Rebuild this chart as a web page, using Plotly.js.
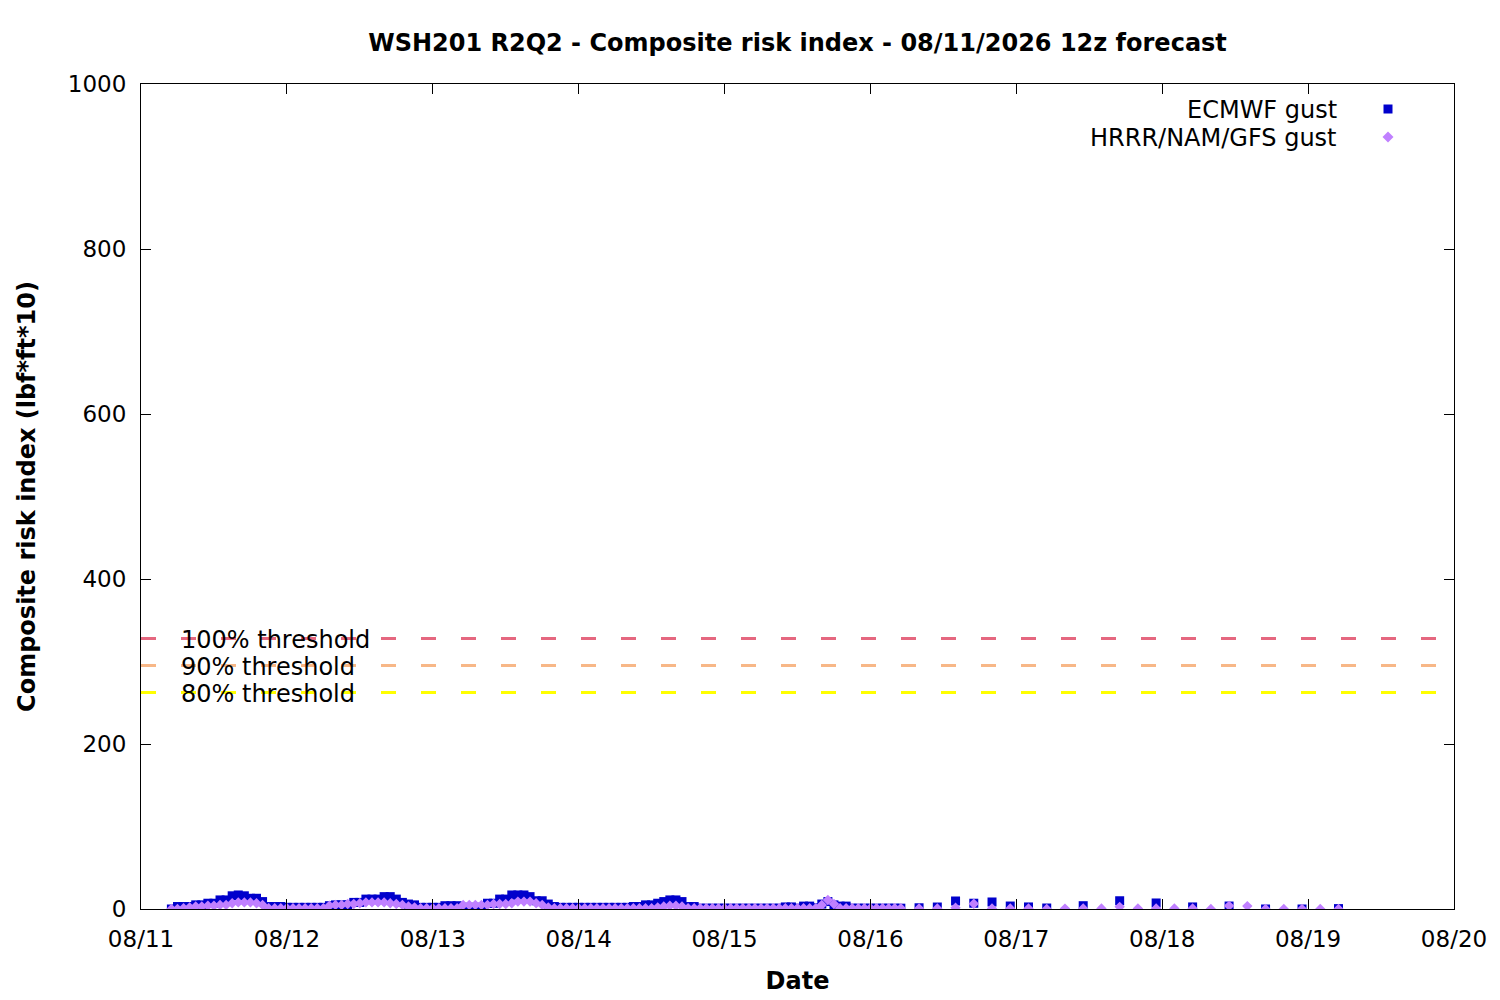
<!DOCTYPE html>
<html>
<head>
<meta charset="utf-8">
<script src="https://cdn.plot.ly/plotly-3.0.1.min.js"></script>
<style>html,body{margin:0;padding:0;background:#fff;}#chart{width:1500px;height:1000px;}</style>
</head>
<body>
<div id="chart"></div>
<script>
// ---- Data ----
// Hourly segment: starts 2026-08-11 05:00, one value per hour
const hourlyStart = '2026-08-11T05:00:00';
const ecmwfHourly = [
  0, 3, 3, 3, 5, 5, 7, 7, 11, 11,
  16, 17, 16, 13, 13, 9, 3, 3, 3, 2,
  2, 2, 2, 2, 2, 2, 4, 5, 5, 5,
  8, 8, 12, 12, 12, 15, 15, 12, 8, 6,
  5, 2, 2, 2, 2, 4, 4, 4, 2, 2,
  2, 2, 7, 7, 12, 12, 17, 17, 17, 15,
  10, 10, 6, 3, 2, 2, 2, 2, 2, 2,
  2, 2, 2, 2, 2, 2, 3, 3, 5, 5,
  7, 9, 11, 11, 9, 3, 3, 1, 1, 1,
  1, 1, 1, 1, 1, 1, 1, 1, 1, 1,
  1, 2.5, 2.5, 1, 3.5, 3.5, 1.5, 6, 9, 5,
  3.5, 3.5, 1, 1, 1, 1, 1, 1, 1, 1,
  1
];
const hrrrHourly = [
  0, 0, 1, 2, 3, 3, 4, 4, 5, 5,
  7, 8, 8, 8, 7, 5, 1, 1, 1, 1,
  1, 1, 1, 1, 1, 1, 4, 5, 5, 6,
  6, 7, 8, 8, 8, 8, 7, 6, 5, 3,
  2, 1, 1, 1, 1, 1, 1, 1, 5, 5,
  5, 5, 5, 6, 6, 6, 7, 9, 9, 9,
  7, 5, 2, 1, 1, 1, 1, 1, 1, 1,
  1, 1, 1, 1, 1, 1, 1, 1, 1, 1,
  2, 3, 4, 4, 3, 1, 1, 1, 1, 1,
  1, 1, 1, 1, 1, 1, 1, 1, 1, 1,
  1, 1, 1, 1, 1, 1, 1, 5, 11, 6,
  1, 1, 1, 1, 1, 1, 1, 1, 1, 1,
  1
];
// 3-hourly segment: 2026-08-16 08:00 to 2026-08-19 05:00
const threeHourlyStart = '2026-08-16T08:00:00';
const hrrrThreeHourly = [
  0.6, 0.6, 1.5, 6.3, 0.6, 0.6, 0.6, 0, 0.5, 0.6,
  0.6, 2.6, 0.6, 0.6, 0.6, 0.6, 0, 3.8, 3.5, 0,
  0, 0, 0, 0
];
const ecmwfThreeHourly = [1.5, 2.4, 9.7, 7, 8.5, 3.6, 2.5, 1.2];
// 6-hourly ECMWF: 2026-08-17 11:00 to 2026-08-19 05:00
const sixHourlyStart = '2026-08-17T11:00:00';
const ecmwfSixHourly = [4, 10, 7.3, 2.5, 3.6, 0, 0, 0.5];

const thresholdLabels = ['100% threshold', '90% threshold', '80% threshold'];
const thresholdValues = [328, 295.2, 262.4];
const thresholdColors = ['#e5677f', '#f7b787', '#ffff00'];

const xTickRange = ['2026-08-11', '2026-08-20'];
const seriesNames = ['ECMWF gust', 'HRRR/NAM/GFS gust'];
const titleText = 'WSH201 R2Q2 - Composite risk index - 08/11/2026 12z forecast';

// ---- helpers ----
function pad(n){return (n<10?'0':'')+n;}
function timesFrom(start, n, stepHours){
  const t0 = new Date(start + 'Z').getTime();
  const out = [];
  for (let i = 0; i < n; i++) {
    const d = new Date(t0 + i*stepHours*3600000);
    out.push(d.getUTCFullYear()+'-'+pad(d.getUTCMonth()+1)+'-'+pad(d.getUTCDate())+' '+pad(d.getUTCHours())+':00');
  }
  return out;
}

const ecX = timesFrom(hourlyStart, ecmwfHourly.length, 1)
  .concat(timesFrom(threeHourlyStart, ecmwfThreeHourly.length, 3))
  .concat(timesFrom(sixHourlyStart, ecmwfSixHourly.length, 6));
const ecY = ecmwfHourly.concat(ecmwfThreeHourly).concat(ecmwfSixHourly);
const hrX = timesFrom(hourlyStart, hrrrHourly.length, 1)
  .concat(timesFrom(threeHourlyStart, hrrrThreeHourly.length, 3));
const hrY = hrrrHourly.concat(hrrrThreeHourly);

const ecColor = '#0000cc';
const hrColor = '#c080ff';

const traces = [
  {x: ecX, y: ecY, type: 'scatter', mode: 'markers', name: seriesNames[0],
   marker: {symbol: 'square', size: 9, color: ecColor, line: {width: 0}}, cliponaxis: true},
  {x: hrX, y: hrY, type: 'scatter', mode: 'markers', name: seriesNames[1],
   marker: {symbol: 'diamond', size: 8, color: hrColor, line: {width: 0}}, cliponaxis: true}
];

// plot area in pixels
const L = 141, R = 1454, T = 84, B = 909;
function px(xp){return (xp - L)/(R - L);}
function py(yp){return (B - yp)/(B - T);}

const FONT = 'DejaVu Sans, Verdana, sans-serif';

const shapes = thresholdValues.map((v, i) => ({
  type: 'line', xref: 'paper', yref: 'y', x0: 0, x1: 1, y0: v, y1: v,
  line: {color: thresholdColors[i], width: 3, dash: '15px,25px'}, layer: 'above'
}));
// legend sample markers
shapes.push({type: 'rect', xref: 'paper', yref: 'paper',
  x0: px(1383.5), x1: px(1392.5), y0: py(113.5), y1: py(104.5),
  fillcolor: ecColor, line: {width: 0}});
shapes.push({type: 'path', xref: 'paper', yref: 'paper',
  path: 'M ' + px(1388) + ' ' + py(131.5) + ' L ' + px(1393.5) + ' ' + py(137) +
        ' L ' + px(1388) + ' ' + py(142.5) + ' L ' + px(1382.5) + ' ' + py(137) + ' Z',
  fillcolor: hrColor, line: {width: 0}});

const annotations = thresholdLabels.map((t, i) => ({
  text: t, xref: 'paper', yref: 'y', x: px(179), y: thresholdValues[i] - 2,
  xanchor: 'left', yanchor: 'middle', showarrow: false,
  font: {family: FONT, size: 24, color: '#000'}
}));
annotations.push({text: seriesNames[0], xref: 'paper', yref: 'paper', x: px(1339), y: py(110),
  xanchor: 'right', yanchor: 'middle', showarrow: false, font: {family: FONT, size: 24, color: '#000'}});
annotations.push({text: seriesNames[1], xref: 'paper', yref: 'paper', x: px(1339), y: py(138),
  xanchor: 'right', yanchor: 'middle', showarrow: false, font: {family: FONT, size: 24, color: '#000'}});

const axisCommon = {
  showline: true, linecolor: '#000', linewidth: 1, mirror: 'allticks',
  ticks: 'inside', ticklen: 10, tickwidth: 1, tickcolor: '#000',
  showgrid: false, zeroline: false,
  tickfont: {family: FONT, size: 23, color: '#000'}
};

const layout = {
  width: 1500, height: 1000,
  margin: {l: L, r: 1500 - R, t: T, b: 1000 - B, pad: 0},
  paper_bgcolor: '#fff', plot_bgcolor: '#fff',
  showlegend: false,
  font: {family: FONT, color: '#000'},
  title: {text: titleText, x: 0.5, xref: 'paper', y: 1 - 43/1000, yref: 'container',
          xanchor: 'center', yanchor: 'middle',
          font: {family: FONT, size: 24, weight: 'bold', color: '#000'}},
  xaxis: Object.assign({}, axisCommon, {
    type: 'date', range: xTickRange, tick0: xTickRange[0], dtick: 86400000,
    tickformat: '%m/%d', ticklabelstandoff: 9,
    title: {text: 'Date', standoff: 21, font: {family: FONT, size: 24, weight: 'bold', color: '#000'}}
  }),
  yaxis: Object.assign({}, axisCommon, {
    range: [0, 1000], tick0: 0, dtick: 200, ticklabelstandoff: 9,
    title: {text: 'Composite risk index (lbf*ft*10)', standoff: 25,
            font: {family: FONT, size: 24, weight: 'bold', color: '#000'}}
  }),
  shapes: shapes,
  annotations: annotations
};

Plotly.newPlot('chart', traces, layout, {staticPlot: true, displayModeBar: false});
</script>
</body>
</html>
